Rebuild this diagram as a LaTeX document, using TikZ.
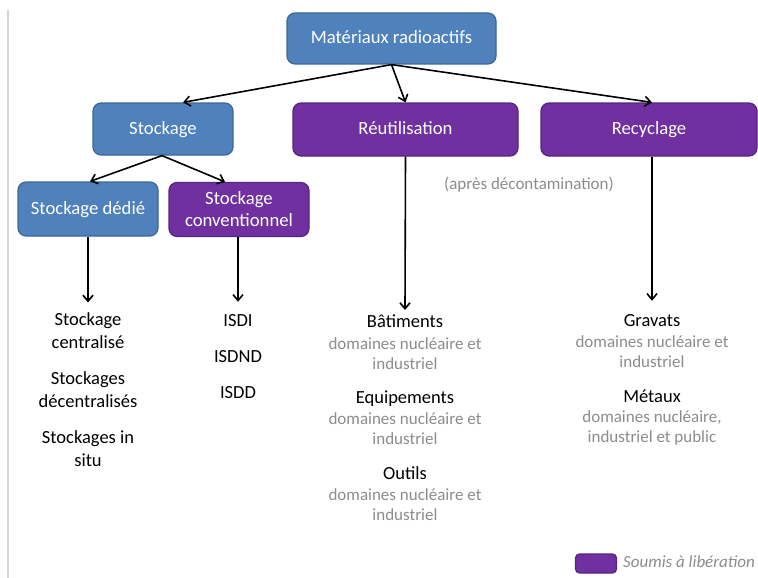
\documentclass[tikz,border=0pt]{standalone}
\usepackage{fontspec}
\setmainfont{Carlito}
\usetikzlibrary{arrows.meta, positioning}
\definecolor{boxblue}{HTML}{4F81BD}
\definecolor{boxblueline}{HTML}{3D6797}
\definecolor{boxpurple}{HTML}{7030A0}
\definecolor{boxpurpleline}{HTML}{56257C}
\definecolor{notegray}{HTML}{8C8C8C}
\definecolor{rulegray}{HTML}{D4D4D4}

\begin{document}
\begin{tikzpicture}[x=1pt, y=-1pt,
    stockbox/.style={rectangle, draw=boxblueline, fill=boxblue, rounded corners=8pt, line width=1.2pt, text=white, align=center, font=\fontsize{18.7}{22}\selectfont, inner sep=2pt},
    releasebox/.style={stockbox, draw=boxpurpleline, fill=boxpurple},
    oneline/.style={text height=1.2em, text depth=0.2em},
    item/.style={anchor=base, align=center, inner sep=1pt, font=\fontsize{18.5}{22.5}\selectfont},
    note/.style={anchor=base, align=center, inner sep=1pt, text=notegray, font=\fontsize{17}{20}\selectfont},
    arrow/.style={-{Straight Barb[length=6pt, width=10pt, line width=1.6pt]}, line width=1.6pt}
]
\useasboundingbox (0,0) rectangle (758,578);

% left rule
\draw[rulegray, line width=1.2pt] (8,10) -- (8,578);

% Boxes
\node[stockbox, oneline, minimum width=209pt, minimum height=51pt] (mat) at (391.5,38.5) {Matériaux radioactifs};
\node[stockbox, oneline, minimum width=140pt, minimum height=52pt] (stock) at (163,129) {Stockage};
\node[releasebox, oneline, minimum width=225pt, minimum height=53pt] (reuse) at (405.5,129.5) {Réutilisation};
\node[releasebox, oneline, minimum width=216pt, minimum height=53pt] (recycle) at (649,129.5) {Recyclage};
\node[stockbox, oneline, minimum width=140pt, minimum height=54pt] (dedie) at (88,209) {Stockage dédié};
\node[releasebox, minimum width=140pt, minimum height=54pt] (conv) at (239,209.5) {Stockage\\conventionnel};

% Lists (base = last line)
\node[item] (central) at (88,348) {Stockage\\centralisé};
\node[item] (decentral) at (88,407) {Stockages\\décentralisés};
\node[item] (insitu) at (88,466) {Stockages in\\situ};
\node[item] (isdi) at (238,326) {ISDI};
\node[item] (isdnd) at (238,362) {ISDND};
\node[item] (isdd) at (238,398) {ISDD};

\node[item] (bat) at (405,327) {Bâtiments};
\node[note] (batnote) at (405,369) {domaines nucléaire et\\industriel};
\node[item] (equip) at (405,403) {Equipements};
\node[note] (equipnote) at (405,444) {domaines nucléaire et\\industriel};
\node[item] (outils) at (405,479) {Outils};
\node[note] (outilsnote) at (405,520) {domaines nucléaire et\\industriel};

\node[item] (gravats) at (652,326) {Gravats};
\node[note] (gravatsnote) at (652,367) {domaines nucléaire et\\industriel};
\node[item] (metaux) at (652,402) {Métaux};
\node[note] (metauxnote) at (652,442) {domaines nucléaire,\\industriel et public};

\node[note] (decont) at (529,189) {(après décontamination)};

% Legend
\node[releasebox, minimum width=41pt, minimum height=19pt, rounded corners=4pt] (legbox) at (596,563.5) {};
\node[note, anchor=base west, font=\fontsize{17}{20}\selectfont\itshape] (legtext) at (622,567) {Soumis à libération};

% Connections
\draw[arrow] (mat.south) -- ([xshift=20pt]stock.north);
\draw[arrow] (mat.south) -- (reuse.north);
\draw[arrow] (mat.south) -- ([xshift=3pt]recycle.north);
\draw[arrow] ([xshift=-1pt]stock.south) -- ([xshift=2pt]dedie.north);
\draw[arrow] ([xshift=-1pt]stock.south) -- ([xshift=-14pt]conv.north);
\draw[arrow] (dedie.south) -- ([yshift=9pt]central.north);
\draw[arrow] ([xshift=-1pt]conv.south) -- ([yshift=11pt]isdi.north);
\draw[arrow] (reuse.south) -- ([yshift=3pt]bat.north);
\draw[arrow] ([xshift=3pt]recycle.south) -- ([yshift=12pt]gravats.north);

\end{tikzpicture}
\end{document}
